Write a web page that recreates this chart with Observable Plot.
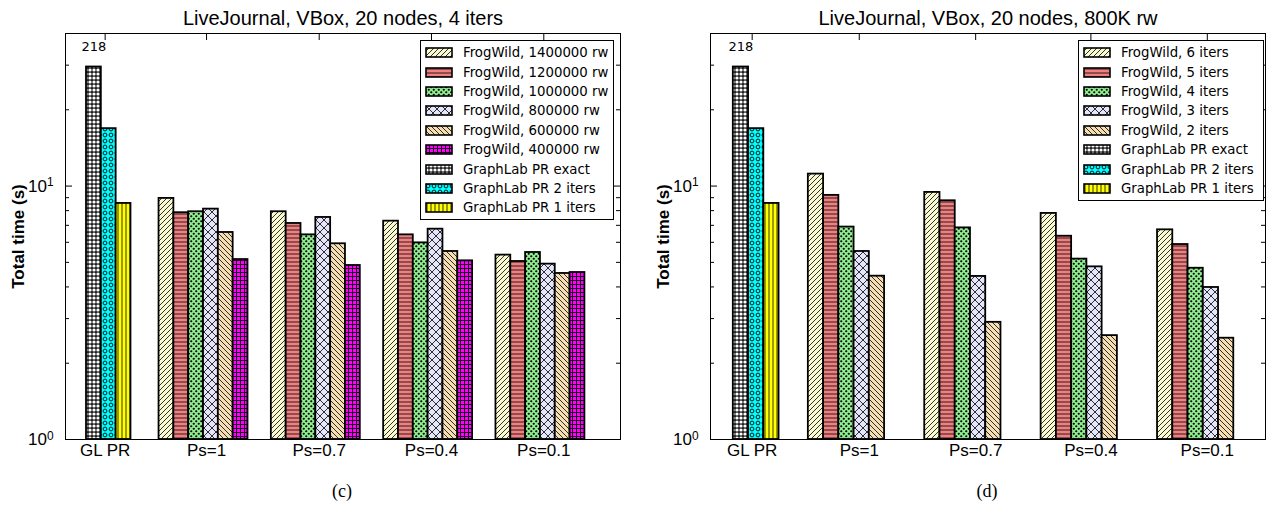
<!DOCTYPE html>
<html><head><meta charset="utf-8">
<script src="https://cdn.jsdelivr.net/npm/d3@7"></script>
<script src="https://cdn.jsdelivr.net/npm/@observablehq/plot@0.6"></script>
<style>
body{margin:0;background:#fff;width:1270px;height:510px;overflow:hidden;position:relative;font-family:"Liberation Sans",Arial,sans-serif;}
.panel{position:absolute;top:0;width:635px;height:470px;}
.legend{position:absolute;box-sizing:border-box;border:1px solid #000;background:#fff;font-family:"DejaVu Sans",sans-serif;font-size:13.3px;padding:2px 0 0 4px;color:#000;}
.row{display:flex;align-items:center;height:19.4px;white-space:nowrap;}
.row svg{margin-right:10px;flex:none;}
.caption{position:absolute;top:481px;width:100px;text-align:center;font-family:"Liberation Serif","DejaVu Serif",serif;font-size:18px;}
</style></head><body>
<svg width="0" height="0" style="position:absolute"><defs>
<pattern id="pA" patternUnits="userSpaceOnUse" width="5" height="5"><rect width="5" height="5" fill="#fafad2"/><path d="M0,5L5,0M-1,1L1,-1M4,6L6,4" stroke="#000" stroke-width="0.8"/></pattern>
<pattern id="pB" patternUnits="userSpaceOnUse" width="4" height="4"><rect width="4" height="4" fill="#f08080"/><path d="M0,2H4" stroke="#000" stroke-width="0.8"/></pattern>
<pattern id="pC" patternUnits="userSpaceOnUse" width="5" height="5"><rect width="5" height="5" fill="#90ee90"/><circle cx="1.25" cy="1.25" r="1.1" fill="#000"/><circle cx="3.75" cy="3.75" r="1.1" fill="#000"/></pattern>
<pattern id="pD" patternUnits="userSpaceOnUse" width="8" height="8"><rect width="8" height="8" fill="#e6e6fa"/><path d="M0,0L8,8M8,0L0,8" stroke="#000" stroke-width="0.8"/></pattern>
<pattern id="pE" patternUnits="userSpaceOnUse" width="5" height="5"><rect width="5" height="5" fill="#f5deb3"/><path d="M0,0L5,5M-1,4L1,6M4,-1L6,1" stroke="#000" stroke-width="0.8"/></pattern>
<pattern id="pF" patternUnits="userSpaceOnUse" width="4" height="4"><rect width="4" height="4" fill="#ff00ff"/><path d="M0,0.5H4M0.5,0V4" stroke="#000" stroke-width="0.9"/></pattern>
<pattern id="pExact" patternUnits="userSpaceOnUse" width="4" height="4"><rect width="4" height="4" fill="#222"/><circle cx="2" cy="2" r="1.6" fill="#fff"/></pattern>
<pattern id="p2it" patternUnits="userSpaceOnUse" width="6" height="6"><rect width="6" height="6" fill="#00ffff"/><circle cx="3" cy="3" r="1.9" fill="none" stroke="#000" stroke-width="0.9"/></pattern>
<pattern id="p1it" patternUnits="userSpaceOnUse" width="4" height="4"><rect width="4" height="4" fill="#ffff00"/><path d="M2,0V4" stroke="#000" stroke-width="0.8"/></pattern>
</defs></svg>
<div id="left" class="panel" style="left:0"></div>
<div id="right" class="panel" style="left:635px"></div>
<div class="caption" style="left:292px">(c)</div>
<div class="caption" style="left:937px">(d)</div>
<script>
// ---------- data ----------
const categories = ["GL PR", "Ps=1", "Ps=0.7", "Ps=0.4", "Ps=0.1"];
const psCategories = categories.slice(1);

const glSeries = ["GraphLab PR exact", "GraphLab PR 2 iters", "GraphLab PR 1 iters"];
const glTimes = [218, 16.85, 8.54];
const glPatterns = ["pExact", "p2it", "p1it"];

// left panel: FrogWild with different numbers of random walks (4 iters)
const rwSeries = ["FrogWild, 1400000 rw", "FrogWild, 1200000 rw", "FrogWild, 1000000 rw",
                  "FrogWild, 800000 rw", "FrogWild, 600000 rw", "FrogWild, 400000 rw"];
const rw1400k = [8.94, 7.92, 7.27, 5.34];
const rw1200k = [7.85, 7.12, 6.42, 5.04];
const rw1000k = [7.92, 6.42, 5.97, 5.47];
const rw800k  = [8.11, 7.52, 6.76, 4.92];
const rw600k  = [6.56, 5.92, 5.52, 4.52];
const rw400k  = [5.13, 4.86, 5.07, 4.56];

// right panel: FrogWild with different numbers of iterations (800K rw)
const itSeries = ["FrogWild, 6 iters", "FrogWild, 5 iters", "FrogWild, 4 iters",
                  "FrogWild, 3 iters", "FrogWild, 2 iters"];
const it6 = [11.15, 9.44, 7.80, 6.72];
const it5 = [9.19, 8.75, 6.34, 5.88];
const it4 = [6.89, 6.84, 5.15, 4.74];
const it3 = [5.52, 4.40, 4.80, 3.98];
const it2 = [4.41, 2.90, 2.57, 2.51];

const fwPatterns = ["pA", "pB", "pC", "pD", "pE", "pF"];
const yMajor = [1, 10];
const yMinor = [2, 3, 4, 5, 6, 7, 8, 9, 20, 30];
const yCap = 29.5; // bars taller than the axis show their value as a label

function makePanel(cfg) {
  const width = 635, height = 470, mt = 33, mb = 31;
  const W = width - cfg.ml - cfg.mr, H = height - mt - mb;
  const n = cfg.series.length;
  const marks = [];
  // title
  marks.push(Plot.text([cfg.title], {text: d => d, frameAnchor: "top", lineAnchor: "middle", dy: -15, fontSize: 20}));
  // GraphLab group
  glTimes.forEach((v, j) => {
    marks.push(Plot.rect([{series: glSeries[j], v}], {
      x1: () => cfg.glStart + j * cfg.barW, x2: () => cfg.glStart + (j + 1) * cfg.barW,
      y1: 1, y2: d => Math.min(d.v, yCap),
      fill: `url(#${glPatterns[j]})`, stroke: "#000", strokeWidth: 1.8
    }));
  });
  // FrogWild groups
  cfg.series.forEach((s, j) => {
    const data = psCategories.map((c, i) => ({cat: c, g: i + 1, v: cfg.values[j][i]}));
    marks.push(Plot.rect(data, {
      x1: d => d.g + (j - n / 2) * cfg.barW, x2: d => d.g + (j + 1 - n / 2) * cfg.barW,
      y1: 1, y2: "v",
      fill: `url(#${fwPatterns[j]})`, stroke: "#000", strokeWidth: 1.8
    }));
  });
  // label of clipped bar
  marks.push(Plot.text([{v: glTimes[0]}], {
    x: () => cfg.glStart + 0.5 * cfg.barW, y: d => Math.min(d.v, yCap), text: d => String(d.v),
    dy: -20, fontSize: 13, fontFamily: "DejaVu Sans"
  }));
  // inward ticks
  marks.push(Plot.tickY(yMajor, {y: d => d, insetRight: W - 7, stroke: "#000"}));
  marks.push(Plot.tickY(yMajor, {y: d => d, insetLeft: W - 7, stroke: "#000"}));
  marks.push(Plot.tickY(yMinor, {y: d => d, insetRight: W - 4, stroke: "#000"}));
  marks.push(Plot.tickY(yMinor, {y: d => d, insetLeft: W - 4, stroke: "#000"}));
  marks.push(Plot.tickX(cfg.tickPos, {x: d => d, insetBottom: H - 7, stroke: "#000"}));
  // axes
  marks.push(Plot.axisX(cfg.tickPos, {anchor: "bottom", tickSize: 0, tickPadding: 4, fontSize: 17,
    tickFormat: d => categories[cfg.tickPos.indexOf(d)], label: null}));
  marks.push(Plot.axisY(yMajor, {anchor: "left", tickSize: 0, tickPadding: 12, fontSize: 17,
    tickFormat: d => "10^" + Math.round(Math.log10(d)), label: null}));
  marks.push(Plot.text(["Total time (s)"], {text: d => d, frameAnchor: "left", textAnchor: "middle",
    lineAnchor: "middle", dx: -47, rotate: -90, fontWeight: "bold", fontSize: 17}));
  marks.push(Plot.frame({stroke: "#000", strokeWidth: 1}));

  const svg = Plot.plot({
    width, height, marginTop: mt, marginBottom: mb, marginLeft: cfg.ml, marginRight: cfg.mr,
    style: {fontFamily: "'Liberation Sans', Arial, sans-serif", color: "#000", background: "#fff"},
    x: {type: "linear", domain: cfg.domain},
    y: {type: "log", domain: [1, 40]},
    marks
  });
  d3.select(svg).selectAll('g[aria-label="y-axis tick label"] text').each(function () {
    const t = this.textContent.split("^");
    this.textContent = "";
    d3.select(this).append("tspan").text(t[0]);
    d3.select(this).append("tspan").attr("dy", "-0.45em").attr("font-size", "0.7em").text(t[1]);
  });
  document.getElementById(cfg.el).appendChild(svg);

  // legend
  const names = [...cfg.series, ...glSeries];
  const pats = [...fwPatterns.slice(0, n), ...glPatterns];
  const lg = document.createElement("div");
  lg.className = "legend";
  Object.assign(lg.style, cfg.legendBox);
  names.forEach((name, i) => {
    const row = document.createElement("div");
    row.className = "row";
    row.innerHTML = `<svg width="28" height="11"><rect x="1" y="1" width="26" height="9" fill="url(#${pats[i]})" stroke="#000" stroke-width="1.6"/></svg><span>${name}</span>`;
    lg.appendChild(row);
  });
  document.body.appendChild(lg);
}

makePanel({
  el: "left", title: "LiveJournal, VBox, 20 nodes, 4 iters",
  series: rwSeries, values: [rw1400k, rw1200k, rw1000k, rw800k, rw600k, rw400k],
  ml: 65, mr: 15, domain: [-0.229, 4.713], barW: 0.132, glStart: -0.042,
  tickPos: [0.124, 1.027, 2.03, 3.03, 4.03],
  legendBox: {left: "420px", top: "40px", width: "194px", height: "180px"}
});
makePanel({
  el: "right", title: "LiveJournal, VBox, 20 nodes, 800K rw",
  series: itSeries, values: [it6, it5, it4, it3, it2],
  ml: 75, mr: 5, domain: [-0.168, 4.6], barW: 0.131, glStart: 0.028,
  tickPos: [0.19, 1.11, 2.11, 3.10, 4.10],
  legendBox: {left: "1078px", top: "40px", width: "186px", height: "161px"}
});
</script>
</body></html>
